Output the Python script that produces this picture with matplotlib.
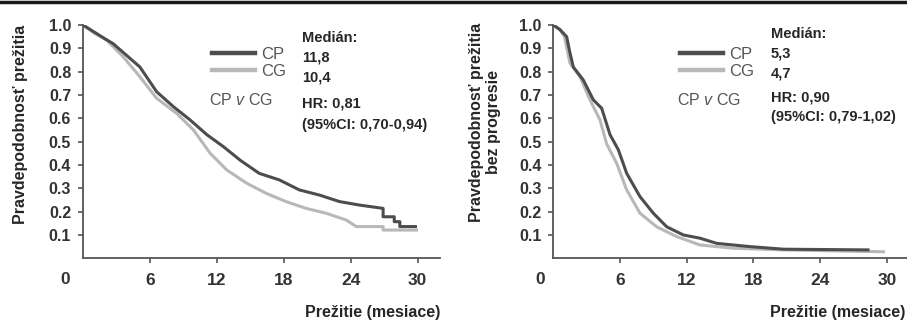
import matplotlib
matplotlib.use("Agg")
import matplotlib.pyplot as plt
from matplotlib.lines import Line2D

plt.rcParams['font.family'] = ['Liberation Sans', 'DejaVu Sans']
plt.rcParams['mathtext.fontset'] = 'custom'
plt.rcParams['mathtext.rm'] = 'Liberation Sans'
plt.rcParams['mathtext.it'] = 'Liberation Sans:italic'

# ---------------- data ----------------
# Overall survival (left panel)
os_cp_t = [0.0, 1.0, 2.0, 2.7, 3.9, 5.1, 6.6, 8.1, 9.6, 11.1, 12.6, 14.1, 15.8,
           17.6, 19.4, 21.2, 23.0, 24.8, 26.9, 26.9, 27.9, 27.9, 28.4, 28.4, 29.8]
os_cp_s = [1.0, 0.97, 0.94, 0.92, 0.87, 0.82, 0.714, 0.65, 0.593, 0.53, 0.478, 0.42, 0.364,
           0.336, 0.293, 0.271, 0.243, 0.228, 0.214, 0.178, 0.178, 0.157, 0.157, 0.136, 0.136]
os_cg_t = [0.0, 1.0, 2.1, 3.6, 5.1, 6.6, 8.4, 9.9, 11.4, 12.9, 14.7, 16.4, 18.2,
           20.0, 21.8, 23.6, 24.5, 26.9, 26.9, 29.9]
os_cg_s = [1.0, 0.965, 0.936, 0.864, 0.778, 0.686, 0.621, 0.55, 0.45, 0.378, 0.321, 0.279, 0.243,
           0.214, 0.193, 0.164, 0.136, 0.136, 0.121, 0.121]

# Progression-free survival (right panel)
pfs_cp_t = [0.0, 0.6, 1.2, 1.5, 1.8, 2.7, 3.6, 4.35, 5.1, 5.85, 6.6, 7.8, 9.0,
            10.2, 11.7, 13.2, 14.7, 17.7, 20.7, 28.3]
pfs_cp_s = [1.0, 0.98, 0.95, 0.88, 0.82, 0.764, 0.679, 0.643, 0.53, 0.465, 0.364, 0.264, 0.193,
            0.135, 0.10, 0.086, 0.064, 0.05, 0.039, 0.036]
pfs_cg_t = [0.0, 0.6, 1.0, 1.5, 2.4, 3.3, 4.2, 4.8, 5.7, 6.6, 7.8, 9.3, 11.1,
            13.2, 16.2, 20.7, 29.7]
pfs_cg_s = [1.0, 0.98, 0.95, 0.836, 0.778, 0.679, 0.593, 0.49, 0.407, 0.293, 0.193, 0.135, 0.093,
            0.057, 0.043, 0.036, 0.028]

series_names = ["CP", "CG"]
x_ticks = [6, 12, 18, 24, 30]
y_ticks = [0.1, 0.2, 0.3, 0.4, 0.5, 0.6, 0.7, 0.8, 0.9, 1.0]
y_ticklabels = ["0.1", "0.2", "0.3", "0.4", "0.5", "0.6", "0.7", "0.8", "0.9", "1.0"]

os_stats = ["Medián:", "11,8", "10,4", "HR: 0,81", "(95%CI: 0,70-0,94)"]
pfs_stats = ["Medián:", "5,3", "4,7", "HR: 0,90", "(95%CI: 0,79-1,02)"]

# ---------------- figure ----------------
W, H = 907, 320
fig = plt.figure(figsize=(W / 100, H / 100), dpi=100)
fig.patch.set_facecolor('white')

def fx(px):
    return px / W

def fy(py):
    return 1 - py / H

DARK = '#4d4d4d'
LIGHT = '#b8b8b8'
AX_C = '#555555'
TXT = '#262626'

def style_axes(ax, xmax):
    ax.set_xlim(0, xmax)
    ax.set_ylim(0, 1.0)
    for s in ['top', 'right']:
        ax.spines[s].set_visible(False)
    for s in ['left', 'bottom']:
        ax.spines[s].set_color(AX_C)
        ax.spines[s].set_linewidth(1.3)
    ax.set_xticks(x_ticks)
    ax.set_xticklabels([str(t) for t in x_ticks])
    ax.set_yticks(y_ticks)
    ax.set_yticklabels(y_ticklabels)
    ax.tick_params(axis='x', direction='out', length=3.5, width=1.2, color=AX_C,
                   pad=7, labelsize=12.5, labelcolor='#333333')
    ax.tick_params(axis='y', direction='out', length=3.5, width=1.2, color=AX_C,
                   pad=5, labelsize=11.5, labelcolor='#333333')
    for lab in ax.get_xticklabels() + ax.get_yticklabels():
        lab.set_fontweight('bold')
    ax.set_facecolor('none')

# left axes
axL = fig.add_axes([fx(83), fy(258.3), fx(440 - 83), (258.3 - 25) / H])
style_axes(axL, 32)
l1, = axL.plot(os_cp_t, os_cp_s, color=DARK, lw=2.2, label=series_names[0], zorder=3)
l2, = axL.plot(os_cg_t, os_cg_s, color=LIGHT, lw=2.2, label=series_names[1], zorder=2)

# right axes
axR = fig.add_axes([fx(553.3), fy(258.3), fx(907 - 553.3), (258.3 - 25) / H])
style_axes(axR, (907 - 553.3) / 11.12)
r1, = axR.plot(pfs_cp_t, pfs_cp_s, color=DARK, lw=2.2, label=series_names[0], zorder=3)
r2, = axR.plot(pfs_cg_t, pfs_cg_s, color=LIGHT, lw=2.2, label=series_names[1], zorder=2)

# "0" labels left of the axis origin
for ax, x0 in [(axL, 65), (axR, 540)]:
    fig.text(fx(x0), fy(280), "0", ha='center', va='center', fontsize=12.5,
             fontweight='bold', color='#333333')

# legends
for ax, handles, xl in [(axL, [l1, l2], 212), (axR, [r1, r2], 680)]:
    leg = ax.legend(handles=handles, loc='center left',
                    bbox_to_anchor=(fx(xl), fy(63)), bbox_transform=fig.transFigure,
                    frameon=False, fontsize=12, handlelength=2.6, handletextpad=0.35,
                    labelspacing=0.15, borderpad=0, borderaxespad=0)
    for ln in leg.get_lines():
        ln.set_linewidth(3.2)
    for t in leg.get_texts():
        t.set_color('#555555')

# "CP v CG"
fig.text(fx(209), fy(100), r"CP $\mathit{v}$ CG", ha='left', va='center',
         fontsize=11.5, color='#555555')
fig.text(fx(677), fy(100), r"CP $\mathit{v}$ CG", ha='left', va='center',
         fontsize=11.5, color='#555555')

# stats text
for txt, py in zip(os_stats, [38, 58, 77, 104, 125]):
    fig.text(fx(302), fy(py), txt, ha='left', va='center', fontsize=10.5,
             fontweight='bold', color=TXT)
for txt, py in zip(pfs_stats, [34, 53, 73, 97, 117]):
    fig.text(fx(771), fy(py), txt, ha='left', va='center', fontsize=10.5,
             fontweight='bold', color=TXT)

# axis labels
fig.text(fx(440), fy(312), "Prežitie (mesiace)", ha='right', va='center',
         fontsize=11.5, fontweight='bold', color=TXT)
fig.text(fx(905), fy(312), "Prežitie (mesiace)", ha='right', va='center',
         fontsize=11.5, fontweight='bold', color=TXT)
fig.text(fx(21), fy(124), "Pravdepodobnosť prežitia", rotation=90, ha='center',
         va='center', fontsize=11.5, fontweight='bold', color=TXT)
fig.text(fx(485), fy(122), "Pravdepodobnosť prežitia\nbez progresie", rotation=90,
         ha='center', va='center', multialignment='center', linespacing=1.1,
         fontsize=11.5, fontweight='bold', color=TXT)

# top rule
fig.add_artist(Line2D([0, 1], [fy(1.5), fy(1.5)], transform=fig.transFigure,
                      color='#1a1a1a', lw=2.5))

fig.savefig("out.png", dpi=100, facecolor='white')
